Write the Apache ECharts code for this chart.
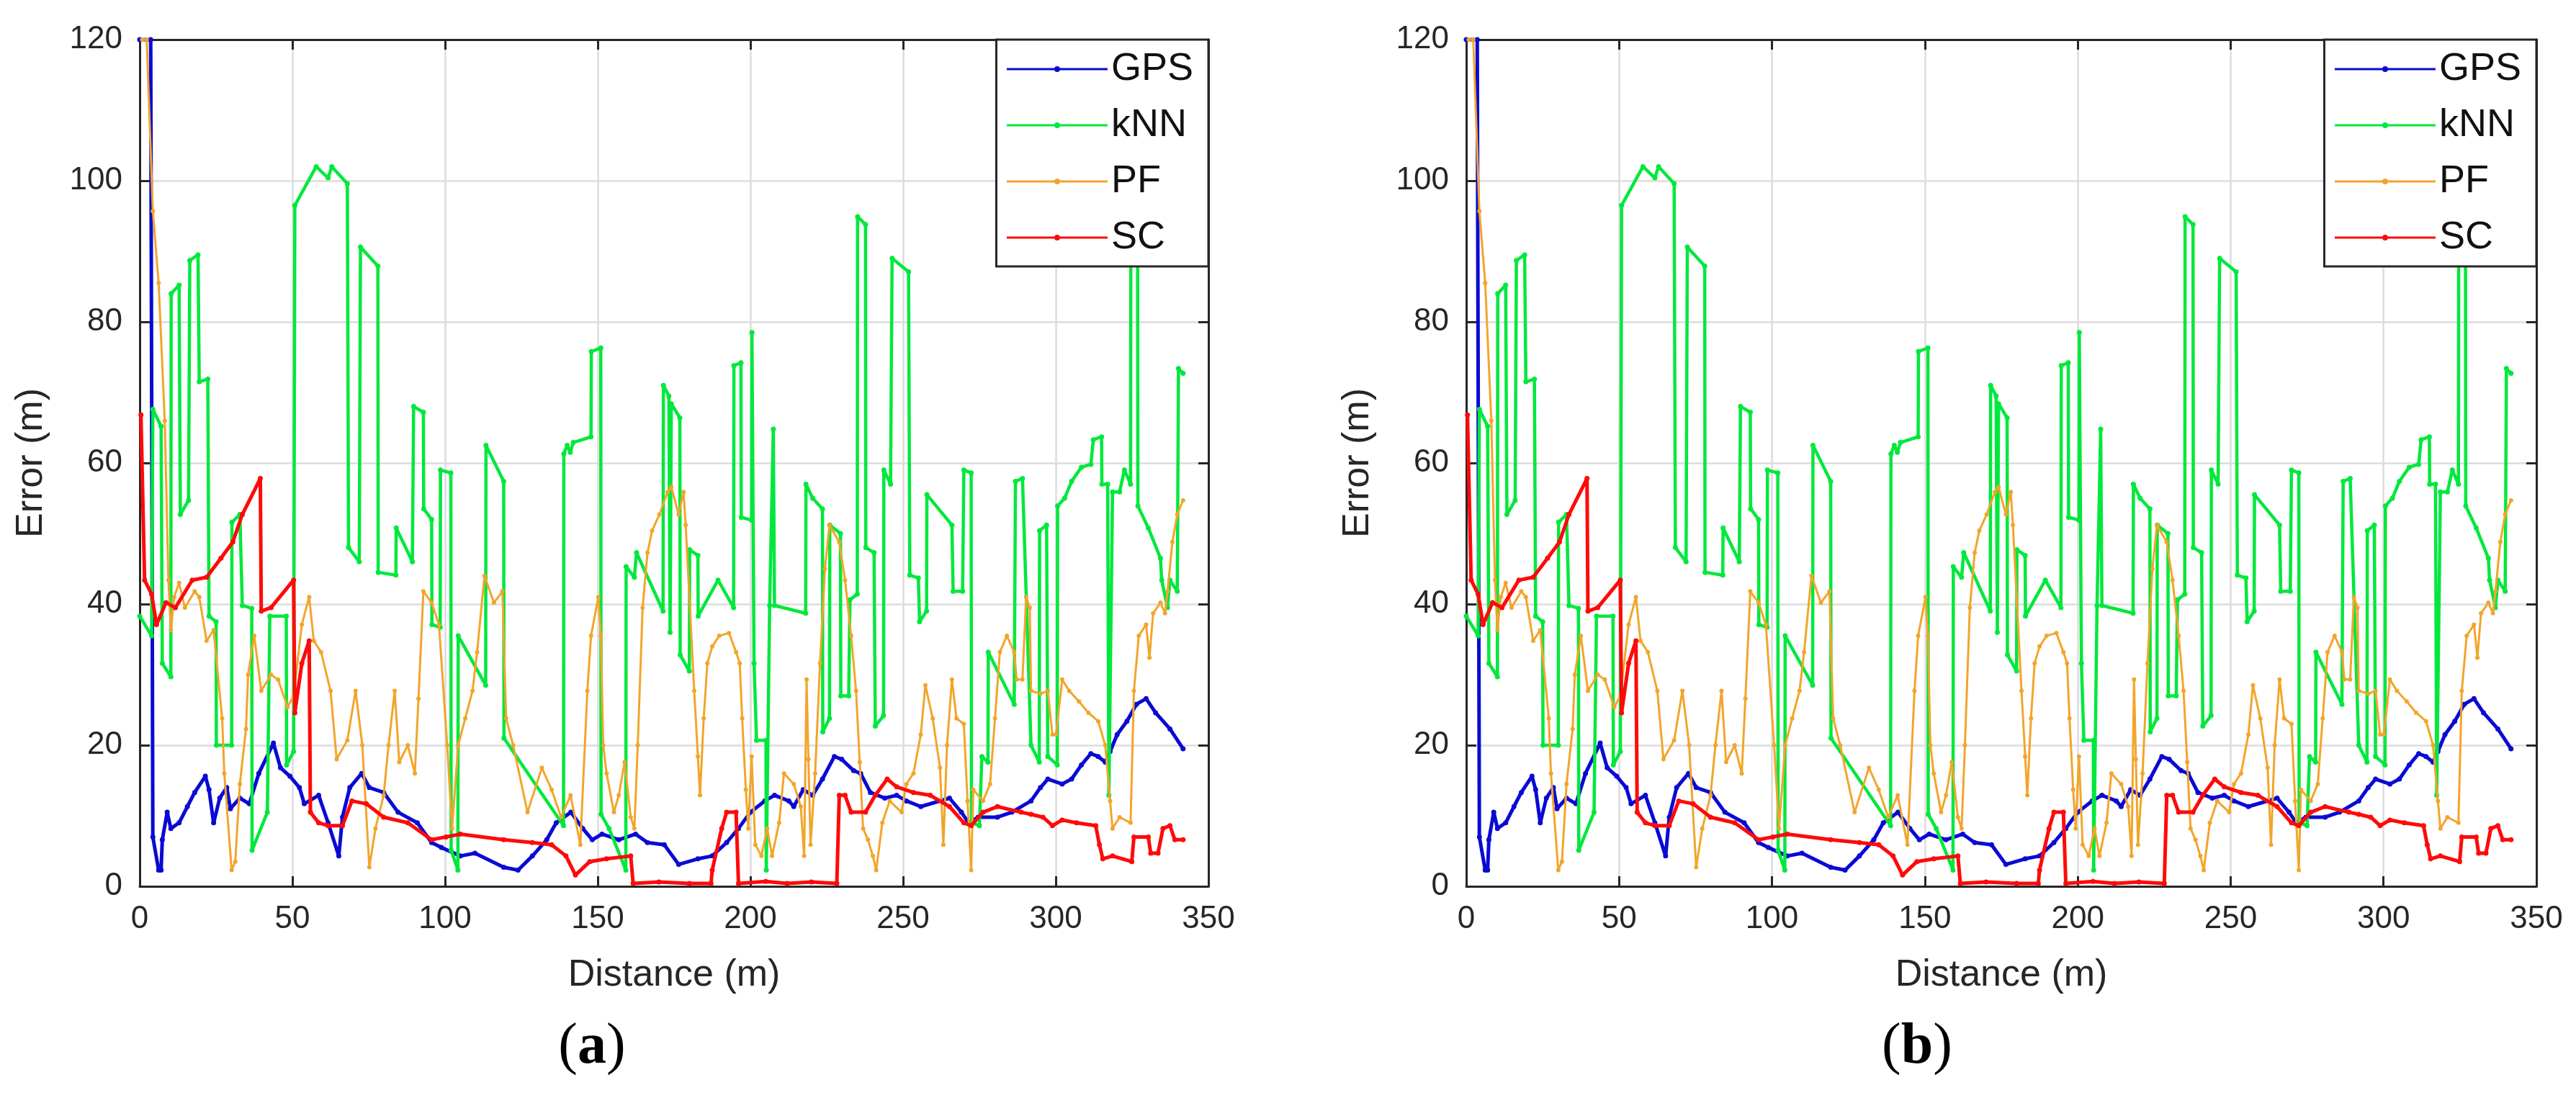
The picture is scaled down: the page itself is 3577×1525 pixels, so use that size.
<!DOCTYPE html>
<html>
<head>
<meta charset="utf-8">
<script src="https://cdn.jsdelivr.net/npm/echarts@6/dist/echarts.min.js"></script>
<style>
html,body{margin:0;padding:0;background:#ffffff;}
#chart{width:3577px;height:1525px;}
</style>
</head>
<body>
<div id="chart"></div>
<script>
// ---- data (distance in m, error in m) ----
const seriesNames = ['GPS', 'kNN', 'PF', 'SC'];
const xTicks = [0, 50, 100, 150, 200, 250, 300, 350];
const yTicks = [0, 20, 40, 60, 80, 100, 120];
const panelLabels = ['a', 'b'];
const xName = 'Distance (m)';
const yName = 'Error (m)';

const gps = [[0,120],[3.6,120],[4.3,7.0],[6.2,2.3],[7.0,2.3],[7.4,6.6],[9.0,10.5],[10.2,8.2],[12.9,9.0],[15.6,11.3],[18.0,13.3],[21.5,15.6],[22.7,13.7],[24.2,9.0],[26.2,12.5],[28.5,14.0],[29.7,11.0],[32.8,12.5],[35.9,11.7],[39.0,16.0],[43.8,20.3],[46.1,16.8],[49.2,15.6],[52.3,14.0],[53.9,11.7],[58.6,12.9],[61.7,9.0],[65.2,4.3],[66.4,9.8],[68.8,14.0],[72.7,16.0],[75.2,14.0],[79.9,13.3],[84.6,10.5],[90.9,9.0],[95.6,6.2],[98.8,5.5],[105.0,4.3],[109.8,4.7],[119.2,2.7],[123.9,2.3],[128.6,4.3],[133.3,6.6],[136.4,9.0],[141.2,10.5],[145.1,8.2],[148.2,6.6],[151.4,7.4],[156.9,6.6],[162.4,7.4],[166.3,6.2],[171.8,5.9],[176.5,3.1],[182.8,3.9],[187.5,4.3],[192.2,6.2],[196.1,8.2],[200.0,10.5],[204.7,12.1],[207.9,12.9],[212.6,12.1],[214.2,11.3],[217.3,13.7],[220.4,12.9],[223.6,15.2],[227.5,18.4],[229.9,18.0],[233.8,16.4],[236.1,16.0],[239.3,13.3],[244.0,12.5],[247.9,12.9],[251.1,12.1],[255.8,11.3],[265.2,12.5],[269.1,10.5],[271.5,9.0],[274.6,9.8],[280.9,9.8],[285.6,10.5],[291.9,12.1],[295.0,14.0],[297.4,15.2],[302.1,14.5],[305.2,15.2],[308.4,17.2],[311.5,18.8],[313.9,18.4],[316.2,17.6],[317.8,19.1],[320.1,21.5],[323.3,23.4],[326.4,25.8],[329.6,26.6],[332.7,24.6],[337.4,22.3],[341.7,19.5]];

const knn = [[0,38.3],[3.9,35.5],[4.3,67.6],[7.0,65.2],[7.4,31.6],[10.2,29.7],[10.3,84.0],[12.9,85.2],[13.3,52.7],[16.0,54.7],[16.4,88.7],[19.1,89.5],[19.5,71.5],[22.3,71.9],[22.7,38.3],[25.0,37.5],[25.1,20.0],[30.1,20.0],[30.2,51.6],[32.8,52.7],[33.6,39.8],[36.7,39.4],[36.8,5.1],[41.8,10.5],[42.6,38.3],[48.0,38.3],[48.1,17.2],[50.4,19.1],[50.8,96.5],[57.8,102.0],[61.7,100.4],[62.9,102.0],[68.0,99.6],[68.4,48.0],[71.9,46.0],[72.3,90.6],[78.0,87.9],[78.1,44.5],[83.9,44.1],[84.0,50.8],[89.3,46.0],[89.7,68.0],[92.9,67.2],[93.0,53.5],[95.6,52.0],[95.7,37.1],[98.4,36.7],[98.5,59.0],[101.9,58.6],[102.0,5.1],[104.2,2.3],[104.3,35.5],[113.3,28.5],[113.4,62.5],[119.2,57.4],[119.3,21.0],[138.8,8.6],[138.9,61.3],[140.0,62.5],[141.0,61.5],[142.0,62.9],[147.8,63.7],[147.9,75.8],[151.0,76.3],[151.1,10.2],[153.7,8.2],[159.2,2.3],[159.3,45.3],[162.0,43.8],[162.7,47.3],[171.4,39.0],[171.5,71.0],[173.3,69.5],[173.7,36.0],[174.1,68.4],[176.9,66.4],[177.0,32.8],[180.0,30.5],[180.1,47.7],[182.8,46.9],[182.9,38.3],[189.4,43.4],[194.5,39.5],[194.6,73.8],[196.9,74.2],[197.0,52.3],[200.4,51.9],[200.5,78.5],[201.2,31.6],[202.0,20.7],[205.1,20.7],[205.2,2.3],[206.3,39.8],[207.5,64.8],[207.9,39.8],[218.1,38.7],[218.2,57.0],[220.4,55.0],[223.6,53.5],[223.7,21.9],[225.9,23.8],[226.0,51.2],[229.5,50.0],[229.6,27.0],[232.2,27.0],[232.6,40.6],[235.0,41.4],[235.1,94.9],[237.7,93.8],[237.8,48.0],[240.5,47.3],[240.9,22.7],[243.6,24.2],[243.7,59.0],[245.9,57.0],[246.4,89.0],[251.8,87.1],[252.2,44.1],[255.0,43.7],[255.4,37.5],[257.7,39.0],[257.8,55.5],[266.0,51.2],[266.4,41.8],[269.5,41.8],[269.9,59.0],[272.3,58.6],[272.4,9.0],[275.0,8.6],[275.8,18.4],[277.8,17.6],[277.9,33.2],[286.4,25.8],[286.8,57.4],[289.1,57.8],[291.9,20.0],[294.6,17.6],[294.7,50.4],[297.0,51.2],[297.4,18.4],[300.5,17.2],[300.6,53.9],[302.9,55.0],[305.2,57.4],[308.4,59.4],[311.5,59.8],[312.3,63.3],[315.0,63.7],[315.1,57.0],[317.0,57.0],[317.4,12.9],[318.6,55.9],[320.9,55.9],[322.5,59.0],[324.5,57.0],[324.6,95.0],[326.8,95.0],[326.9,53.9],[330.3,50.8],[334.3,46.5],[334.7,43.4],[336.6,39.5],[337.4,43.4],[339.8,41.8],[340.2,73.4],[341.7,72.7]];

const pf = [[0.8,120],[2.3,120],[4.3,95.7],[6.2,85.5],[8.2,66.0],[9.4,43.4],[10.2,36.3],[11.3,41.0],[12.9,43.0],[14.8,39.5],[18.0,41.8],[19.5,41.0],[21.9,34.8],[24.2,36.3],[27.0,23.8],[27.7,16.0],[30.1,2.3],[31.3,3.5],[32.8,14.5],[34.8,22.3],[35.5,30.0],[37.5,35.5],[39.8,27.7],[43.0,30.0],[45.3,29.3],[48.4,25.4],[50.4,27.0],[53.1,37.1],[55.5,41.0],[57.0,34.8],[59.4,33.2],[62.5,27.7],[64.5,18.0],[68.0,20.7],[70.7,27.7],[72.9,20.0],[75.2,2.7],[77.2,8.2],[79.9,12.9],[81.5,20.0],[83.5,27.7],[85.0,17.6],[87.8,20.0],[90.1,16.0],[91.3,26.6],[92.9,41.8],[95.6,40.2],[98.0,37.1],[100.7,20.0],[102.3,8.2],[104.3,20.0],[106.6,23.8],[109.0,27.7],[110.5,33.2],[112.9,44.0],[116.0,40.2],[118.8,41.8],[120.0,23.8],[122.3,20.0],[127.0,10.5],[131.7,16.8],[134.9,13.7],[138.0,9.8],[141.1,12.9],[144.3,5.9],[146.6,27.7],[147.8,35.5],[150.2,41.0],[151.0,35.5],[151.8,20.0],[152.9,16.0],[155.3,10.5],[156.9,12.9],[158.8,17.6],[160.8,9.8],[162.0,8.2],[163.1,20.0],[164.7,39.5],[166.3,47.3],[167.8,50.4],[170.2,52.7],[172.9,55.9],[174.1,56.6],[176.5,52.7],[178.1,55.9],[178.8,51.2],[181.6,27.7],[182.8,18.4],[183.5,12.9],[184.7,23.8],[185.9,31.6],[187.5,34.0],[189.8,35.5],[193.0,35.9],[195.3,33.2],[196.5,31.6],[197.3,23.8],[198.5,13.7],[199.3,8.2],[200.4,18.4],[201.6,5.9],[203.6,4.3],[205.5,8.2],[207.1,4.3],[209.4,9.0],[211.0,16.0],[214.2,14.5],[216.5,11.3],[217.6,4.3],[218.4,29.3],[219.0,18.0],[219.7,5.9],[221.2,16.0],[222.8,31.6],[224.4,45.0],[225.9,51.2],[229.1,48.8],[231.0,43.4],[233.0,35.5],[234.6,27.7],[235.8,17.6],[236.9,8.2],[238.5,6.6],[240.1,4.3],[241.2,2.3],[243.2,9.0],[245.6,12.1],[249.5,10.5],[251.1,14.5],[253.4,16.0],[255.8,21.5],[257.3,28.5],[259.7,23.8],[262.1,16.8],[263.2,5.9],[264.4,20.0],[266.0,29.3],[267.5,23.8],[269.9,23.0],[271.1,12.1],[272.3,2.3],[273.0,13.7],[276.2,12.1],[278.5,14.5],[280.1,23.8],[281.7,33.2],[284.0,35.5],[286.4,33.2],[287.2,29.3],[289.1,29.3],[290.3,41.0],[291.5,39.5],[291.9,27.7],[295.0,27.3],[297.4,27.7],[298.9,21.5],[300.1,21.5],[302.1,29.3],[304.4,27.7],[307.6,26.2],[310.7,24.6],[313.9,23.4],[316.2,20.0],[317.8,12.1],[318.6,8.2],[320.9,9.8],[324.5,9.0],[325.6,27.7],[327.2,35.5],[329.6,37.1],[330.7,32.4],[331.9,38.7],[334.3,40.2],[335.8,38.7],[336.6,41.8],[338.2,48.8],[339.8,52.7],[341.7,54.7]];

const sc = [[0.4,66.8],[1.6,43.4],[3.9,41.4],[5.5,37.1],[8.6,40.2],[11.7,39.5],[17.2,43.4],[21.9,43.8],[26.6,46.5],[30.5,48.8],[33.6,52.7],[39.5,57.8],[39.8,39.0],[43.0,39.5],[50.4,43.4],[50.8,24.6],[53.1,31.6],[55.5,34.8],[55.9,10.5],[58.6,9.0],[61.7,8.6],[66.4,8.6],[69.5,12.1],[74.2,11.7],[79.9,9.8],[87.8,9.0],[95.6,6.6],[100.3,7.0],[105.0,7.4],[119.2,6.6],[128.6,6.2],[134.9,5.9],[139.6,4.3],[142.7,1.6],[147.4,3.5],[152.9,3.9],[160.8,4.3],[161.6,0.4],[170.0,0.6],[180.0,0.4],[187.1,0.4],[187.5,2.3],[190.6,8.2],[192.2,10.5],[195.3,10.5],[196.1,0.4],[205.0,0.7],[212.0,0.4],[220.0,0.6],[228.3,0.4],[229.1,12.9],[231.0,12.9],[233.0,10.5],[237.7,10.5],[240.9,12.9],[244.8,15.2],[247.9,14.1],[253.4,13.3],[258.9,12.9],[265.2,11.3],[269.9,9.0],[272.3,8.6],[276.2,10.5],[280.9,11.3],[288.7,10.5],[291.9,10.2],[295.8,9.8],[298.9,8.6],[302.1,9.4],[306.8,9.0],[313.1,8.6],[314.3,5.9],[315.4,3.9],[318.6,4.3],[324.9,3.5],[325.6,7.0],[330.3,7.0],[331.1,4.7],[333.5,4.7],[335.1,8.2],[337.4,8.6],[339.0,6.6],[341.7,6.6]];

const seriesData = [gps, knn, pf, sc];
const seriesColors = ['#0a0ad4', '#00e83c', '#f2a52a', '#ff0a0a'];
const seriesWidths = [5, 4.5, 3, 5];
const seriesSymbolSizes = [7, 7, 6, 7];

// ---- layout ----
const grids = [
  {left: 194, top: 55, width: 1484, height: 1176},
  {left: 2036, top: 55, width: 1486, height: 1176}
];
const labelCenters = [822, 2662];
const FONT = 'Liberation Sans, Arial, Helvetica, sans-serif';
const AX = '#262626';

const xAxes = [], yAxes = [], series = [], legends = [], graphics = [];
grids.forEach((g, i) => {
  const common = {
    gridIndex: i,
    axisLine: {show: true, onZero: false, lineStyle: {color: AX, width: 3}},
    axisTick: {show: true, inside: true, length: 14, lineStyle: {color: AX, width: 3}}
  };
  xAxes.push(Object.assign({}, common, {
    type: 'value', position: 'bottom',
    min: xTicks[0], max: xTicks[xTicks.length - 1], interval: xTicks[1] - xTicks[0],
    axisLabel: {fontSize: 44, color: AX, fontFamily: FONT, margin: 24},
    splitLine: {show: true, lineStyle: {color: '#dcdcdc', width: 2.5}},
    name: xName, nameLocation: 'middle', nameGap: 98,
    nameTextStyle: {fontSize: 52, color: AX, fontFamily: FONT}
  }));
  xAxes.push(Object.assign({}, common, {
    type: 'value', position: 'top',
    min: xTicks[0], max: xTicks[xTicks.length - 1], interval: xTicks[1] - xTicks[0],
    axisLabel: {show: false}, splitLine: {show: false}
  }));
  yAxes.push(Object.assign({}, common, {
    type: 'value', position: 'left',
    min: yTicks[0], max: yTicks[yTicks.length - 1], interval: yTicks[1] - yTicks[0],
    axisLabel: {fontSize: 44, color: AX, fontFamily: FONT, margin: 24},
    splitLine: {show: true, lineStyle: {color: '#dcdcdc', width: 2.5}},
    name: yName, nameLocation: 'middle', nameGap: 124,
    nameTextStyle: {fontSize: 52, color: AX, fontFamily: FONT}
  }));
  yAxes.push(Object.assign({}, common, {
    type: 'value', position: 'right',
    min: yTicks[0], max: yTicks[yTicks.length - 1], interval: yTicks[1] - yTicks[0],
    axisLabel: {show: false}, splitLine: {show: false}
  }));

  seriesNames.forEach((name, k) => {
    series.push({
      type: 'line', name: name,
      xAxisIndex: 2 * i, yAxisIndex: 2 * i,
      data: seriesData[k],
      symbol: 'circle', symbolSize: seriesSymbolSizes[k], showSymbol: true,
      lineStyle: {color: seriesColors[k], width: seriesWidths[k]},
      itemStyle: {color: seriesColors[k]},
      clip: true, animation: false, silent: true,
      emphasis: {disabled: true}, z: 2 + k
    });
  });

  legends.push({
    orient: 'vertical',
    right: 3577 - (g.left + g.width),
    top: g.top,
    data: seriesNames,
    itemWidth: 140, itemHeight: 10, itemGap: 24,
    itemTextGap: 10,
    padding: [14, 21, 13, 13],
    backgroundColor: '#ffffff',
    borderColor: AX, borderWidth: 3,
    textStyle: {fontSize: 54, color: '#111111', fontFamily: FONT},
    lineStyle: {width: 3},
    selectedMode: false, z: 10
  });

  graphics.push({
    type: 'text',
    x: labelCenters[i], y: 1455,
    style: {
      text: '{p|(}{b|' + panelLabels[i] + '}{p|)}',
      align: 'center', verticalAlign: 'middle',
      rich: {
        p: {fontFamily: 'Liberation Serif, Times New Roman, serif', fontSize: 80, fill: '#000'},
        b: {fontFamily: 'Liberation Serif, Times New Roman, serif', fontSize: 80, fontWeight: 'bold', fill: '#000'}
      }
    }
  });
});

const chart = echarts.init(document.getElementById('chart'), null, {renderer: 'canvas'});
chart.setOption({
  backgroundColor: '#ffffff',
  animation: false,
  grid: grids.map(g => Object.assign({show: false, containLabel: false}, g)),
  xAxis: xAxes,
  yAxis: yAxes,
  legend: legends,
  series: series,
  graphic: graphics
});
</script>
</body>
</html>
